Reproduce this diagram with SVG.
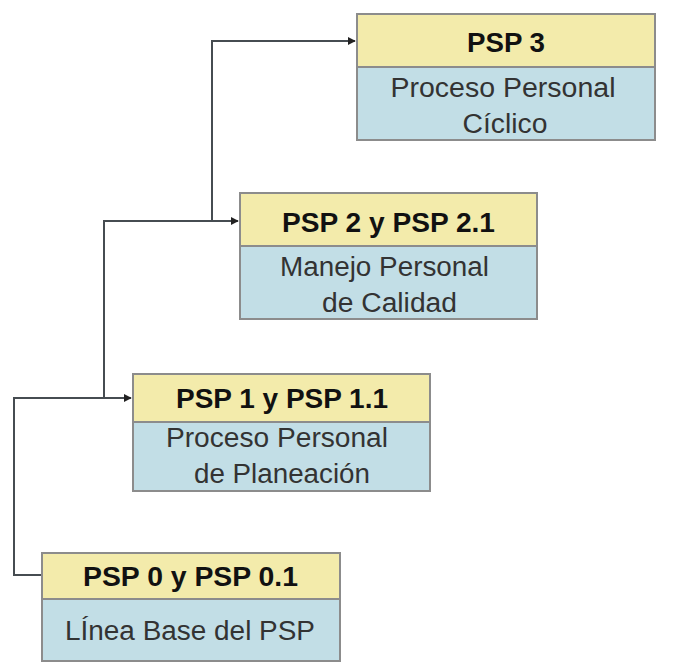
<svg xmlns="http://www.w3.org/2000/svg" width="676" height="672" viewBox="0 0 676 672">
<style>
.hd{fill:#F3EBAB;stroke:#8C8C8C;stroke-width:2}
.bd{fill:#C2DEE6;stroke:#8C8C8C;stroke-width:2}
.t{font-family:"Liberation Sans",Arial,sans-serif;font-size:27px;font-weight:bold;fill:#111;text-anchor:middle}
.b{font-family:"Liberation Sans",Arial,sans-serif;font-size:27px;fill:#333;text-anchor:middle}
.c{fill:none;stroke:#464C51;stroke-width:2}
</style>
<defs>
<marker id="ah" viewBox="0 0 10 10" refX="9" refY="5" markerWidth="4" markerHeight="4" orient="auto" markerUnits="strokeWidth">
<path d="M0,0 L10,5 L0,10 z" fill="#222"/>
</marker>
</defs>
<rect width="676" height="672" fill="#fff"/>
<g id="connectors">
<polyline class="c" points="42,575 14,575 14,398 131,398" marker-end="url(#ah)"/>
<polyline class="c" points="104,398 104,221 238,221" marker-end="url(#ah)"/>
<polyline class="c" points="212,221 212,41 355,41" marker-end="url(#ah)"/>
</g>
<g id="psp3">
<rect class="hd" x="357" y="14" width="298" height="53"/>
<rect class="bd" x="357" y="67" width="298" height="73"/>
<text class="t" x="506" y="52" textLength="78" lengthAdjust="spacingAndGlyphs">PSP 3</text>
<text class="b" x="503" y="97" textLength="225" lengthAdjust="spacingAndGlyphs">Proceso Personal</text>
<text class="b" x="505" y="133" textLength="85" lengthAdjust="spacingAndGlyphs">Cíclico</text>
</g>
<g id="psp2">
<rect class="hd" x="240" y="193" width="297" height="53"/>
<rect class="bd" x="240" y="246" width="297" height="73"/>
<text class="t" x="388.5" y="232" textLength="213" lengthAdjust="spacingAndGlyphs">PSP 2 y PSP 2.1</text>
<text class="b" x="384.5" y="276" textLength="209" lengthAdjust="spacingAndGlyphs">Manejo Personal</text>
<text class="b" x="389.5" y="312" textLength="135" lengthAdjust="spacingAndGlyphs">de Calidad</text>
</g>
<g id="psp1">
<rect class="hd" x="133" y="374" width="297" height="48"/>
<rect class="bd" x="133" y="422" width="297" height="69"/>
<text class="t" x="282" y="408" textLength="212" lengthAdjust="spacingAndGlyphs">PSP 1 y PSP 1.1</text>
<text class="b" x="277" y="447" textLength="222" lengthAdjust="spacingAndGlyphs">Proceso Personal</text>
<text class="b" x="282" y="483" textLength="176" lengthAdjust="spacingAndGlyphs">de Planeación</text>
</g>
<g id="psp0">
<rect class="hd" x="42" y="553" width="298" height="46"/>
<rect class="bd" x="42" y="599" width="298" height="62"/>
<text class="t" x="190.5" y="586" textLength="215" lengthAdjust="spacingAndGlyphs">PSP 0 y PSP 0.1</text>
<text class="b" x="190" y="640" textLength="250" lengthAdjust="spacingAndGlyphs">LÍnea Base del PSP</text>
</g>
</svg>
